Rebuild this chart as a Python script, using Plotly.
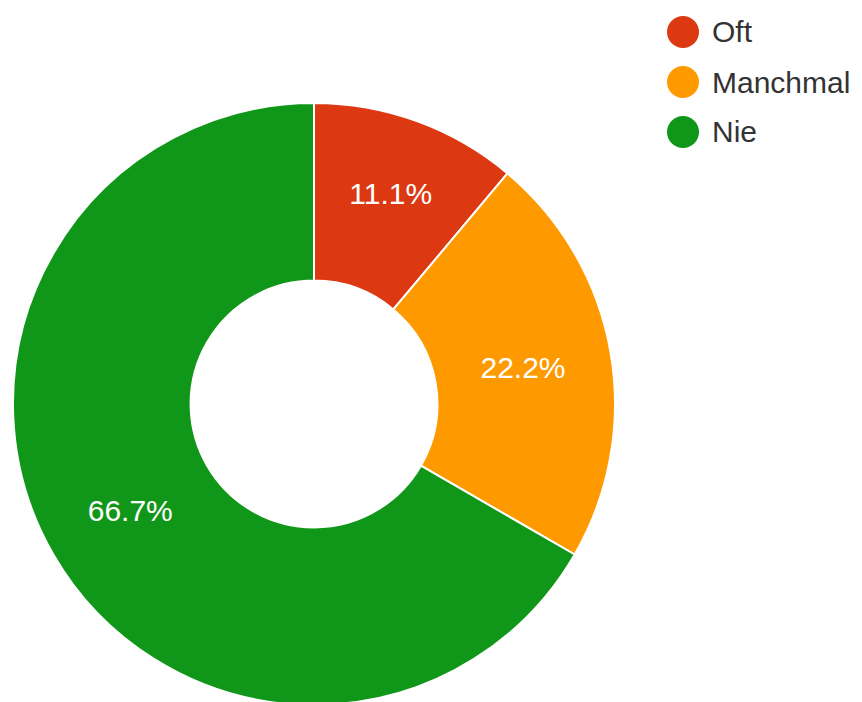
import plotly.graph_objects as go

labels = ["Oft", "Manchmal", "Nie"]
values = [1, 2, 6]
colors = ["#DC3912", "#FF9900", "#109618"]

W, H = 862, 702
OFF = 8  # page body margin in the browser

fig = go.Figure()
fig.add_trace(go.Pie(
    labels=labels,
    values=values,
    hole=0.41,
    sort=False,
    direction="clockwise",
    rotation=0,
    marker=dict(colors=colors, line=dict(color="white", width=2)),
    texttemplate="%{percent:.1%}",
    textposition="inside",
    insidetextorientation="horizontal",
    textfont=dict(family="Liberation Sans, Arial, sans-serif", size=30, color="white"),
    domain=dict(x=[(12 - OFF) / W, (616 - OFF) / W],
                y=[(H - (705 - OFF)) / H, (H - (103 - OFF)) / H]),
    showlegend=False,
))

# Legend with round markers, built from the same lists
for i, (lab, col) in enumerate(zip(labels, colors)):
    yc = 1 - (32 + 50 * i - OFF) / H
    fig.add_shape(type="circle", xref="paper", yref="paper",
                  xsizemode="pixel", ysizemode="pixel",
                  xanchor=(683 - OFF) / W, yanchor=yc,
                  x0=-16, x1=16, y0=-16, y1=16,
                  fillcolor=col, line=dict(width=0))
    fig.add_annotation(x=(710 - OFF) / W, y=yc, xref="paper", yref="paper",
                       text=lab, showarrow=False, xanchor="left", yanchor="middle",
                       font=dict(family="Liberation Sans, Arial, sans-serif", size=30, color="#333333"))

fig.update_layout(
    width=W, height=H,
    margin=dict(l=0, r=0, t=0, b=0),
    paper_bgcolor="white",
    plot_bgcolor="white",
)

fig.write_html("out.html")
